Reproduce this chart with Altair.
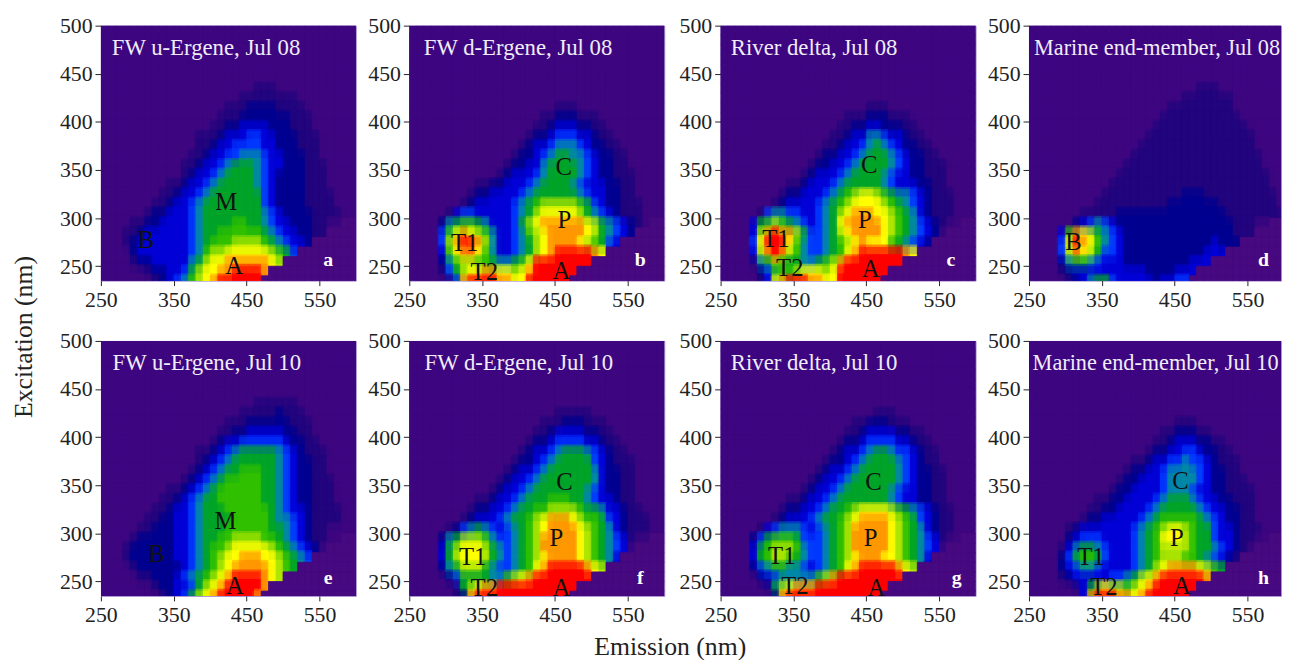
import altair as alt
import pandas as pd

LEVELS = list("0123456789abx")
COLORS = ["#3d0780", "#22057f", "#000090", "#0000d8", "#0038ff", "#0088a8", "#00a428",
          "#30c000", "#a8e400", "#ffff00", "#ff9800", "#ff0000", "#47097f"]
EM_STARTS = list(range(250, 600, 10))
ROW_LOWS = [490, 480, 470, 460, 450, 440, 430, 420, 410, 400, 390, 380, 370, 360, 350, 340, 330,
            320, 310, 300, 290, 280, 270, 260, 250, 240, 235]
ROW_HIGHS = [500, 490, 480, 470, 460, 450, 440, 430, 420, 410, 400, 390, 380, 370, 360, 350, 340,
             330, 320, 310, 300, 290, 280, 270, 260, 250, 240]
MASK_FROM = {235: 470, 240: 480, 250: 500, 260: 520, 270: 540, 280: 560, 290: 580}

# rows run from excitation 440 down to 235; columns in groups of five from emission 250
A = ["", "00000 00000 00000 00000 01110 00000 00000", "00000 00000 00000 00001 11111 11000 00000",
     "00000 00000 00000 00111 22221 11100 00000", "00000 00000 00000 01112 22222 21110 00000",
     "00000 00000 00000 11223 33322 21110 00000", "00000 00000 00011 12333 44332 22111 00000",
     "00000 00000 00011 23344 44332 22111 00000", "00000 00000 00112 33445 55433 22211 00000",
     "00000 00000 01123 34566 65433 22211 10000", "00000 00000 01233 45666 65432 22211 10000",
     "00000 00001 12334 56666 65432 22211 10000", "00000 00011 23345 66666 66432 22211 11000",
     "00000 00112 33456 66666 66432 22211 11000", "00000 01223 33456 66666 66543 22221 11100",
     "00001 12233 33456 66677 66543 32221 1", "00011 23333 33456 67777 77654 33221 1",
     "00012 33333 33456 77788 88765 43322 1", "00002 33333 33457 88999 99987 64322",
     "00001 22333 33568 99aaa aaa98 753", "00000 01223 34689 9aabb bbaa9", "00000 00123 45789 abbbb bb"]
B = ["", "", "", "00000 00000 00000 00000 11100 00000 00000", "00000 00000 00000 00011 22211 10000 00000",
     "00000 00000 00000 00112 33322 11000 00000", "00000 00000 00000 01223 44433 21100 00000",
     "00000 00000 00000 12334 55543 22110 00000", "00000 00000 00001 22345 66554 32211 00000",
     "00000 00000 00012 23356 66654 32211 00000", "00000 00000 00123 33456 66654 32211 10000",
     "00000 00001 12233 34566 66543 33221 10000", "00000 00012 23333 45666 66654 33221 10000",
     "00000 00123 33334 56788 88876 43221 11000", "00000 13443 33334 56899 99986 54321 11",
     "00002 56776 53334 689aa aaaa9 86543 21", "00004 79a98 75334 5789a aaaa9 86543 2",
     "00004 8abba 85334 5689a aaa98 76432 1", "00003 79aa9 75334 5689a bbbbb a9",
     "00002 57887 76556 79bbb bbbbb", "00001 46899 aa998 9abbb bbb", "00000 14abb bbaa9 9bbbb bb"]
C = ["", "", "", "00000 00000 00000 00000 11100 00000 00000", "00000 00000 00000 00111 22211 10000 00000",
     "00000 00000 00000 01122 33222 11000 00000", "00000 00000 00000 11233 55433 21100 00000",
     "00000 00000 00001 12334 56543 22110 00000", "00000 00000 00012 23345 66654 32211 00000",
     "00000 00000 00122 33456 66654 32211 10000", "00000 00000 01233 34566 66543 32211 10000",
     "00000 00001 12333 45666 66543 33221 10000", "00000 00012 23334 56789 98765 54321 11000",
     "00000 00123 33345 67899 99876 54321 11000", "00000 14554 43345 689aa a9987 65321 11",
     "00003 67876 54345 69aaa aa987 65432 1", "00003 8abaa 86445 689aa aa987 65432",
     "00004 9bbb9 75445 6789a 99976 54321", "00003 8aba8 75445 679ab bbbbb a98",
     "00001 56876 65567 8abbb bbbbb", "00000 24677 89998 9bbbb bbb", "00000 139ab bbaa9 9bbbb bb"]
D = ["", "00000 00000 00000 00000 00011 10000 00000", "00000 00000 00000 00000 01111 11100 00000",
     "00000 00000 00000 00001 11111 11100 00000", "00000 00000 00000 00011 11111 11110 00000",
     "00000 00000 00000 00111 11111 11111 00000", "00000 00000 00000 01111 11111 11111 10000",
     "00000 00000 00000 11111 11111 11111 10000", "00000 00000 00001 11111 11111 11111 11000",
     "00000 00000 00011 11111 11111 11111 11000", "00000 00000 00111 11111 11111 11111 11100",
     "00000 00000 01111 11111 11111 11111 11100", "00000 00000 11111 11111 12221 11111 11110",
     "00000 00001 11111 11112 22222 21111 11110", "00000 00111 11222 22222 22222 22111 11111",
     "00000 02345 43222 22222 22222 22211 1", "00003 7a986 54322 22222 22222 22211 1",
     "00004 9ba97 54322 22222 22222 32221", "00004 8a986 44322 22222 22223 3322",
     "00002 56654 33322 22222 22333 332", "00001 23333 33333 32222 33344 4", "00000 12356 64333 33233 44"]
E = ["", "00000 00000 00000 00000 01111 11000 00000", "00000 00000 00000 00001 11112 11100 00000",
     "00000 00000 00000 00111 22222 21110 00000", "00000 00000 00000 01122 33333 22110 00000",
     "00000 00000 00000 12334 44444 32211 00000", "00000 00000 00011 23456 66665 43211 10000",
     "00000 00000 00012 34566 66665 43221 10000", "00000 00000 00123 45667 77665 43221 10000",
     "00000 00000 01234 56777 77665 43221 11000", "00000 00001 12345 67777 77665 43221 11000",
     "00000 00011 23456 67777 77665 43221 11000", "00000 00112 33456 66777 77765 43321 11100",
     "00000 01122 33456 66677 77765 54321 11100", "00000 11222 33456 66777 77766 54321 1",
     "00001 22222 33456 67788 88776 54321 1", "00012 22222 33456 77899 99987 65432",
     "00012 22222 33456 7899a aa998 76543", "00001 22222 23456 789aa aaa98 765",
     "00000 11222 34567 89abb bba98", "00000 00122 33468 9abbb bba", "00000 00012 34689 abbbb ba"]
F = ["", "", "00000 00000 00000 00000 11111 00000 00000", "00000 00000 00000 00011 12221 11000 00000",
     "00000 00000 00000 00112 33332 21100 00000", "00000 00000 00000 01223 44443 32110 00000",
     "00000 00000 00000 12334 56665 43211 00000", "00000 00000 00001 22345 66666 43211 10000",
     "00000 00000 00012 33456 66666 53221 10000", "00000 00000 00123 34566 66666 53221 10000",
     "00000 00000 01233 45666 66665 43221 10000", "00000 00001 12334 56667 77665 43321 10000",
     "00000 00012 23345 66778 88876 65332 11000", "00000 00123 33456 6789a aa987 76432 11100",
     "00000 12456 54345 6789a aaa98 76532 111", "00002 56888 75445 678aa aaa98 76543 1",
     "00003 68999 86545 678aa aaa98 76543", "00003 68999 86545 6789a aaa98 76532",
     "00002 56888 65445 679ab bbbba 98", "00000 24666 65578 9abbb bbbbb",
     "00000 01689 aabbb bbbbb bbb", "00000 012ab bbbbb bbbbb bb"]
G = ["", "", "00000 00000 00000 00000 01110 00000 00000", "00000 00000 00000 00011 22211 10000 00000",
     "00000 00000 00000 00112 33332 21100 00000", "00000 00000 00000 01223 44443 32110 00000",
     "00000 00000 00000 12334 56654 43211 00000", "00000 00000 00001 22345 66665 43211 00000",
     "00000 00000 00012 33456 66665 43221 10000", "00000 00000 00123 34566 66665 43221 10000",
     "00000 00000 01233 45666 66654 33221 10000", "00000 00001 12334 56666 66654 33221 10000",
     "00000 00012 23345 66789 99987 65432 11000", "00000 00123 33456 6789a aaa98 76432 11000",
     "00000 13455 54345 678aa aaa98 76532 11", "00002 46777 64445 678aa aaa98 76543 1",
     "00003 67888 75445 678aa aaa98 76543", "00003 67887 65445 6789a aa998 76532",
     "00002 45665 54345 679ab bbbba 98", "00000 23455 55578 abbbb bbbbb",
     "00000 01689 aaabb bbbbb bbb", "00000 002ab bbbbb bbbbb bb"]
H = ["", "", "", "00000 00000 00000 00000 11100 00000 00000", "00000 00000 00000 00011 22211 00000 00000",
     "00000 00000 00000 00112 33322 11000 00000", "00000 00000 00000 01223 34432 21100 00000",
     "00000 00000 00001 12334 45443 21110 00000", "00000 00000 00012 23345 55543 22110 00000",
     "00000 00000 00122 33345 55543 22111 00000", "00000 00000 01223 33345 55433 22111 10000",
     "00000 00001 12233 33456 66543 32211 10000", "00000 00011 22333 34566 66654 33221 10000",
     "00000 00122 33333 45677 77765 43221 10000", "00000 12333 33334 56789 98766 43321 11",
     "00000 23444 33334 56799 98766 43321 1", "00001 35665 43334 56788 88766 54321",
     "00002 46776 43334 56788 87765 43211", "00002 34554 33334 5689a aaa98 76",
     "00001 23333 34456 89abb bbbba", "00000 01368 98878 9abbb bbb", "00000 003ab bbaa9 abbbb bb"]

TITLES = ["FW u-Ergene, Jul 08", "FW d-Ergene, Jul 08", "River delta, Jul 08", "Marine end-member, Jul 08",
          "FW u-Ergene, Jul 10", "FW d-Ergene, Jul 10", "River delta, Jul 10", "Marine end-member, Jul 10"]
TITLE_EM = [265, 270, 264, 257, 266, 271, 264, 255]
TITLE_SIZE = [23, 23, 23, 22.5]
TAGS = list("abcdefgh")
TAG_EM = [562, 567, 566, 572, 562, 567, 574, 572]
TAG_EX = [256, 256, 256, 256, 254, 254, 254, 254]
GRIDS = [A, B, C, D, E, F, G, H]
PEAKS = [
    [("B", 312, 277), ("M", 422, 317), ("A", 433, 250)],
    [("C", 462, 353), ("P", 463, 298), ("T1", 326, 274), ("T2", 353, 244), ("A", 459, 245)],
    [("C", 454, 355), ("P", 448, 298), ("T1", 326, 278), ("T2", 345, 248), ("A", 456, 247)],
    [("B", 311, 275)],
    [("B", 326, 278), ("M", 421, 313), ("A", 434, 245)],
    [("C", 463, 353), ("P", 452, 295), ("T1", 337, 275), ("T2", 353, 243), ("A", 459, 243)],
    [("C", 460, 353), ("P", 456, 295), ("T1", 334, 276), ("T2", 352, 245), ("A", 464, 243)],
    [("C", 458, 354), ("P", 453, 295), ("T1", 335, 275), ("T2", 353, 244), ("A", 460, 245)],
]

FONT = "Liberation Serif"
# the rightmost column is cut at the picture's edge, as in the reference
X_END = [600, 600, 600, 596]
PANEL_WIDTH = [258, 258, 258, 255]
ys = alt.Scale(domain=[235, 500], nice=False, zero=False)
color_scale = alt.Scale(domain=LEVELS, range=COLORS)
x_axis = alt.Axis(values=[250, 350, 450, 550], grid=False, domain=False, format="d", labelFlush=False,
                  tickColor="#222", tickSize=5, labelPadding=4)
y_axis = alt.Axis(values=[250, 300, 350, 400, 450, 500], grid=False, domain=False, format="d", labelFlush=False,
                  tickColor="#222", tickSize=6, labelPadding=3)


def table(grid):
    rows = []
    full = [""] * 5 + grid
    for text, low, high in zip(full, ROW_LOWS, ROW_HIGHS):
        cells = text.replace(" ", "").ljust(35, "0")
        for em, level in zip(EM_STARTS, cells):
            if low in MASK_FROM and em >= MASK_FROM[low]:
                level = "x"
            rows.append({"em": em, "em2": em + 10, "ex": low, "ex2": high, "v": level})
    return pd.DataFrame(rows)


def panel(i):
    column = i % 4
    xs = alt.Scale(domain=[250, X_END[column]], nice=False, zero=False)

    def rect_layer(frame, x0, x1, y0, y1, **mark):
        return alt.Chart(frame).mark_rect(clip=True, **mark).encode(
            x=alt.X(x0, type="quantitative", scale=xs, title=None, axis=x_axis),
            x2=x1,
            y=alt.Y(y0, type="quantitative", scale=ys, title=None, axis=y_axis),
            y2=y1,
            color=alt.Color("v:N", scale=color_scale, legend=None),
            stroke=alt.Stroke("v:N", scale=color_scale, legend=None),
        )

    def text_layer(frame, **mark):
        return alt.Chart(frame).mark_text(font=FONT, **mark).encode(
            x=alt.X("em:Q", scale=xs, title=None, axis=x_axis),
            y=alt.Y("ex:Q", scale=ys, title=None, axis=y_axis),
            text="t:N")

    cells = table(GRIDS[i])
    live = cells[cells.v != "x"].copy()
    # overlapping half-transparent copies of the same cells soften the block edges
    live["wide0"] = live.em - 2.5
    live["wide1"] = live.em2 + 7.5
    live["tall0"] = live.ex - 7.5
    live["tall1"] = live.ex2 + 2.5
    masked = cells[cells.v == "x"]
    peaks = pd.DataFrame(PEAKS[i], columns=["t", "em", "ex"])
    head = pd.DataFrame({"t": [TITLES[i]], "em": [TITLE_EM[i]], "ex": [477]})
    tag = pd.DataFrame({"t": [TAGS[i]], "em": [TAG_EM[i]], "ex": [TAG_EX[i]]})
    return alt.layer(
        rect_layer(cells, "em", "em2", "ex", "ex2", strokeWidth=0.7),
        rect_layer(live, "wide0", "wide1", "ex", "ex2", opacity=0.45, strokeWidth=0),
        rect_layer(live, "em", "em2", "tall0", "tall1", opacity=0.45, strokeWidth=0),
        rect_layer(masked, "em", "em2", "ex", "ex2", strokeWidth=0.7),
        text_layer(peaks, fontSize=25, color="#111"),
        text_layer(head, fontSize=TITLE_SIZE[column], color="#f0ecf8", align="left"),
        text_layer(tag, fontSize=20, fontWeight="bold", color="#ffffff"),
    ).properties(width=PANEL_WIDTH[column], height=258)


def row(start):
    left = alt.hconcat(panel(start), panel(start + 1), spacing=10)
    right = alt.hconcat(panel(start + 2), panel(start + 3), spacing=10)
    return alt.hconcat(left, right, spacing=13)


grid_chart = alt.vconcat(row(0), row(4), spacing=18).properties(
    title=alt.TitleParams("Emission (nm)", orient="bottom", anchor="middle", font=FONT, fontSize=26,
                          fontWeight="normal", color="#222", offset=8))
chart = alt.hconcat(grid_chart).properties(
    title=alt.TitleParams("Excitation (nm)", orient="left", anchor="middle", font=FONT, fontSize=26,
                          fontWeight="normal", color="#222", offset=22),
    padding={"left": 3, "top": 2, "right": 0, "bottom": 0},
).configure_axis(labelFont=FONT, labelFontSize=22, labelColor="#222").configure_view(
    stroke="#a890d0", strokeWidth=1)

chart.save("out.html", embed_options={"renderer": "svg", "actions": False})
